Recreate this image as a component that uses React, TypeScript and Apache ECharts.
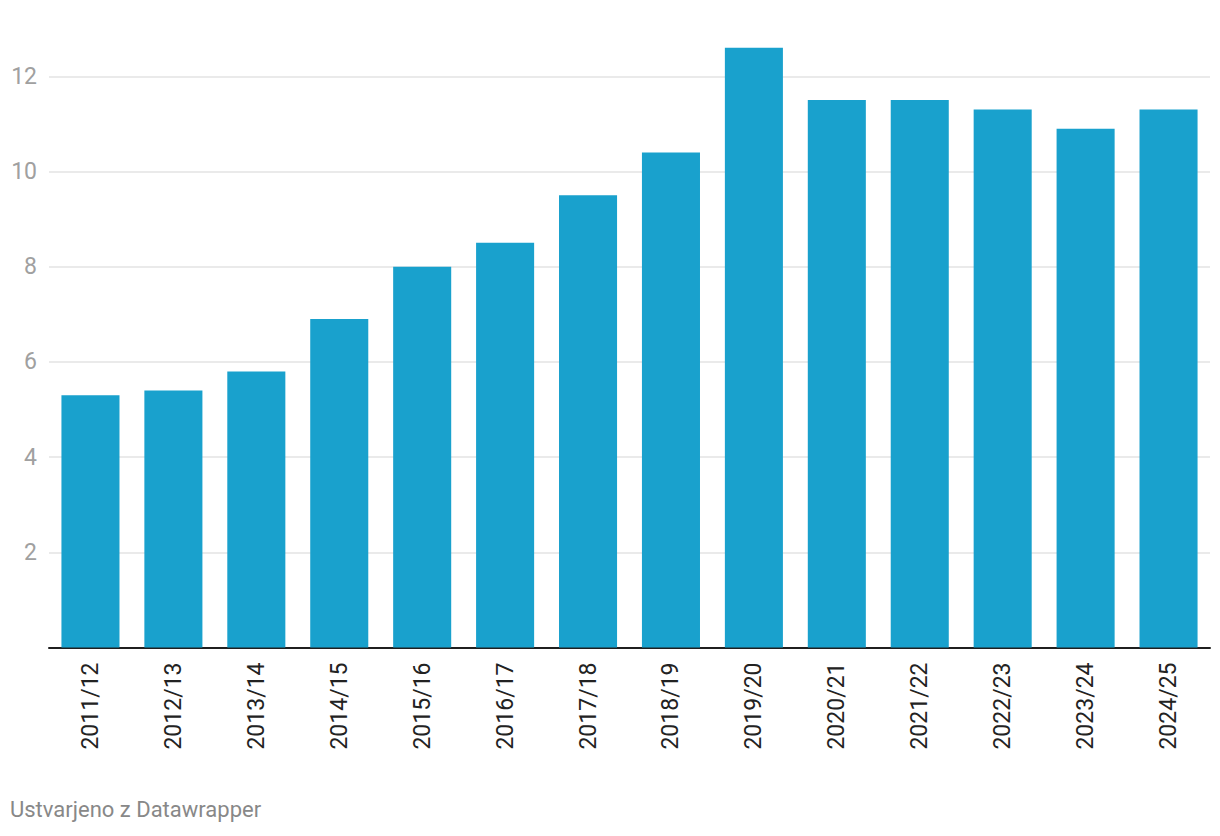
import React, { useEffect, useRef } from "react";
import * as echarts from "echarts";

const categories = ["2011/12","2012/13","2013/14","2014/15","2015/16","2016/17","2017/18","2018/19","2019/20","2020/21","2021/22","2022/23","2023/24","2024/25"];
const values = [5.3, 5.4, 5.8, 6.9, 8.0, 8.5, 9.5, 10.4, 12.6, 11.5, 11.5, 11.3, 10.9, 11.3];
const yTicks = [2, 4, 6, 8, 10, 12];
const footer = "Ustvarjeno z Datawrapper";

export default function App() {
  const ref = useRef<HTMLDivElement>(null);
  useEffect(() => {
    if (!ref.current) return;
    const chart = echarts.init(ref.current, null, { renderer: "svg" });
    chart.setOption({
      animation: false,
      backgroundColor: "#ffffff",
      textStyle: { fontFamily: "Roboto" },
      grid: { left: 49, right: 10, top: 47.7, bottom: 188.5, containLabel: false },
      xAxis: {
        type: "category",
        data: categories,
        axisLine: { show: true, lineStyle: { color: "#1f1f1f", width: 2 } },
        axisTick: { show: false },
        axisLabel: {
          rotate: 90,
          margin: 15,
          fontSize: 23,
          color: "#222222",
          fontFamily: "Roboto",
          interval: 0,
        },
      },
      yAxis: {
        type: "value",
        min: 0,
        max: 12.6,
        interval: 2,
        axisLine: { show: false },
        axisTick: { show: false },
        axisLabel: {
          margin: 12,
          fontSize: 23,
          color: "#a0a0a0",
          fontFamily: "Roboto",
          showMaxLabel: false,
          formatter: (v: number) => (yTicks.indexOf(v) >= 0 ? String(v) : ""),
        },
        splitLine: {
          show: true,
          showMinLine: false,
          showMaxLine: false,
          lineStyle: { color: "#e3e3e3", width: 1.5 },
        },
      },
      series: [
        {
          type: "bar",
          data: values,
          barCategoryGap: "30%",
          itemStyle: { color: "#19a1cd" },
          z: 1,
        },
      ],
      graphic: [
        {
          type: "text",
          left: 10,
          top: 798,
          style: { text: footer, fontSize: 22, fill: "#888888", fontFamily: "Roboto" },
        },
      ],
    });
    return () => chart.dispose();
  }, []);
  return (
    <div
      ref={ref}
      style={{ position: "fixed", left: 0, top: 0, width: 1220, height: 836 }}
    />
  );
}
